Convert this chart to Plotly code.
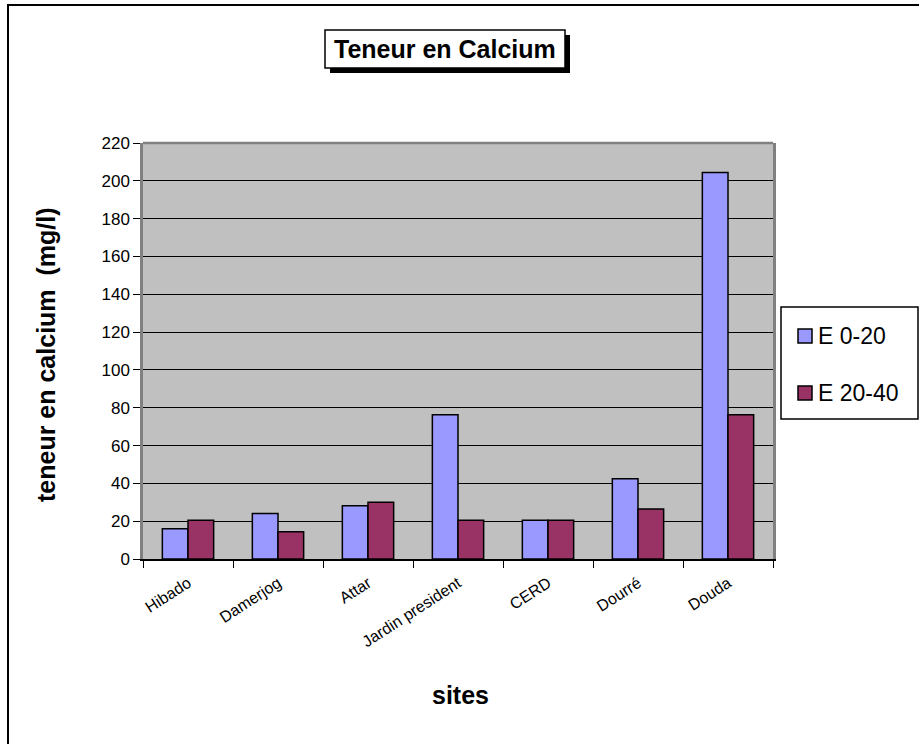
import plotly.graph_objects as go

# ---- data ----
sites = ["Hibado", "Damerjog", "Attar", "Jardin president", "CERD", "Dourré", "Douda"]
series_names = ["E 0-20", "E 20-40"]
e_0_20 = [16, 24, 28.2, 76.3, 20.5, 42.5, 204.4]
e_20_40 = [20.5, 14.4, 30, 20.5, 20.5, 26.5, 76.3]
y_ticks = [0, 20, 40, 60, 80, 100, 120, 140, 160, 180, 200, 220]

colors = ["#9999FF", "#993366"]
FONT = "Arial, Liberation Sans, sans-serif"

W, H = 919, 744
L, R, T, B = 143, 146, 143, 185
PW, PH = W - L - R, H - T - B


def px(xp):
    return (xp - L) / PW


def py(yp):
    return (H - B - yp) / PH


fig = go.Figure()
for name, vals, col in zip(series_names, [e_0_20, e_20_40], colors):
    fig.add_trace(go.Bar(
        x=sites, y=vals, name=name,
        marker=dict(color=col, line=dict(color="black", width=1.5)),
        showlegend=False,
    ))

shapes = []
annotations = []

# outer frame
shapes.append(dict(type="rect", xref="paper", yref="paper",
                   x0=px(8), x1=px(921), y0=py(760), y1=py(5),
                   line=dict(color="black", width=2), fillcolor="rgba(0,0,0,0)", layer="below"))
# plot top border (grey)
shapes.append(dict(type="line", xref="paper", yref="paper", x0=0, x1=1, y0=1, y1=1,
                   line=dict(color="#808080", width=2.5)))
# title box with shadow
shapes.append(dict(type="rect", xref="paper", yref="paper",
                   x0=px(330), x1=px(570), y0=py(73), y1=py(35),
                   line=dict(width=0), fillcolor="black"))
shapes.append(dict(type="rect", xref="paper", yref="paper",
                   x0=px(325), x1=px(565), y0=py(68), y1=py(30),
                   line=dict(color="black", width=1.5), fillcolor="white"))
annotations.append(dict(xref="paper", yref="paper", x=px(445), y=py(49),
                        text="<b>Teneur en Calcium</b>", showarrow=False,
                        xanchor="center", yanchor="middle",
                        font=dict(family=FONT, size=25, color="black")))

# legend box (manual)
shapes.append(dict(type="rect", xref="paper", yref="paper",
                   x0=px(781), x1=px(918), y0=py(419), y1=py(307),
                   line=dict(color="black", width=1.5), fillcolor="white"))
for i, (name, col) in enumerate(zip(series_names, colors)):
    cy = 336 + i * 57
    shapes.append(dict(type="rect", xref="paper", yref="paper",
                       x0=px(798), x1=px(812), y0=py(cy + 7), y1=py(cy - 7),
                       line=dict(color="black", width=1.5), fillcolor=col))
    annotations.append(dict(xref="paper", yref="paper", x=px(816), y=py(cy),
                            text=name, showarrow=False, xanchor="left", yanchor="middle",
                            font=dict(family=FONT, size=23, color="black")))

# axis titles
annotations.append(dict(xref="paper", yref="paper", x=px(46), y=py(355),
                        text="<b>teneur en calcium  (mg/l)</b>", showarrow=False, textangle=-90,
                        xanchor="center", yanchor="middle",
                        font=dict(family=FONT, size=25, color="black")))
annotations.append(dict(xref="paper", yref="paper", x=px(460), y=py(695),
                        text="<b>sites</b>", showarrow=False,
                        xanchor="center", yanchor="middle",
                        font=dict(family=FONT, size=25, color="black")))

fig.update_layout(
    width=W, height=H,
    margin=dict(l=L, r=R, t=T, b=B, autoexpand=False),
    paper_bgcolor="white",
    plot_bgcolor="#C0C0C0",
    barmode="group",
    bargap=0.43,
    bargroupgap=0,
    showlegend=False,
    shapes=shapes,
    annotations=annotations,
    font=dict(family=FONT, color="black"),
)
fig.update_xaxes(
    type="category", tickson="boundaries", ticks="outside", ticklen=7, tickwidth=1,
    tickcolor="black", showline=True, linecolor="black", linewidth=1.5,
    tickangle=-33, tickfont=dict(family=FONT, size=16, color="black"),
    ticklabelstandoff=7,
    showgrid=False, automargin=False,
)
fig.update_yaxes(
    range=[0, 220], tickvals=y_ticks, ticktext=[str(v) for v in y_ticks],
    ticks="outside", ticklen=7, tickwidth=1, tickcolor="black",
    showline=True, linecolor="#808080", linewidth=2.5, mirror=True,
    showgrid=True, gridcolor="black", gridwidth=1, zeroline=False,
    tickfont=dict(family=FONT, size=17, color="black"), automargin=False,
)

fig.write_html("out.html", config={"displayModeBar": False},
               post_script="document.body.style.margin='0px';")
